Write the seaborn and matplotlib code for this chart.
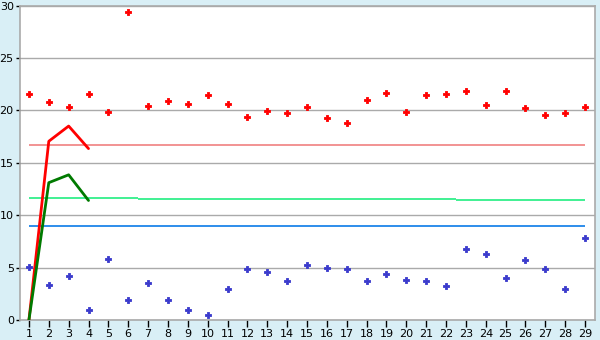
import matplotlib
matplotlib.use("Agg")
import matplotlib.pyplot as plt
import seaborn as sns
import pandas as pd
import numpy as np

# ---- data ----
days = list(range(1, 30))
red_points = [21.6, 20.8, 20.35, 21.6, 19.8, 29.4, 20.45, 20.85, 20.65, 21.5,
              20.65, 19.4, 19.9, 19.7, 20.35, 19.3, 18.75, 21.0, 21.7, 19.8,
              21.5, 21.6, 21.8, 20.55, 21.8, 20.25, 19.6, 19.7, 20.35]
blue_points = [5.1, 3.3, 4.15, 1.0, 5.8, 1.95, 3.5, 1.95, 1.0, 0.45,
               3.0, 4.85, 4.55, 3.7, 5.2, 5.0, 4.85, 3.7, 4.35, 3.8,
               3.7, 3.2, 6.75, 6.25, 4.0, 5.7, 4.85, 3.0, 7.8]
red_line_x = [1, 2, 3, 4]
red_line_y = [0.0, 17.05, 18.5, 16.35]
green_line_x = [1, 2, 3, 4]
green_line_y = [0.0, 13.1, 13.85, 11.4]
pink_level = 16.65
blue_level = 8.92
green_breaks = [1, 6.5, 22.5, 29]
green_levels = [11.59, 11.5, 11.42]
y_ticks = [0, 5, 10, 15, 20, 25, 30]

# ---- style ----
sns.set_theme(style="white")
plt.rcParams['font.family'] = ['DejaVu Sans']
bg = "#d9eff6"
grid_c = "#aaaaaa"

fig = plt.figure(figsize=(6, 3.4), dpi=100, facecolor=bg)
ax = fig.add_axes([20/600, 20/340, 575/600, 314.5/340])
ax.set_facecolor("white")

ax.set_xlim(0.55, 29.5)
ax.set_ylim(0, 30)
ax.set_yticks(y_ticks)
ax.set_xticks(days)
ax.yaxis.grid(True, color=grid_c, linewidth=1)
ax.set_axisbelow(True)

# horizontal reference lines
ax.hlines(pink_level, days[0], days[-1], color="#f08080", linewidth=1.2, zorder=2)
ax.hlines(blue_level, days[0], days[-1], color="#0a7ae8", linewidth=1.2, zorder=2)
for i, lvl in enumerate(green_levels):
    ax.hlines(lvl, green_breaks[i], green_breaks[i + 1], color="#20ee80",
              linewidth=1.2, zorder=2)

# trend lines
sns.lineplot(x=red_line_x, y=red_line_y, ax=ax, color="#ff0000", linewidth=2.0,
             zorder=3, estimator=None, sort=False)
sns.lineplot(x=green_line_x, y=green_line_y, ax=ax, color="#007a00", linewidth=2.0,
             zorder=3, estimator=None, sort=False)

# scatter points
df = pd.DataFrame({"day": days, "high": red_points, "low": blue_points})
sns.scatterplot(data=df, x="day", y="high", ax=ax, color="#ff0000", marker="P",
                s=20, linewidth=0.6, edgecolor="#ff0000", zorder=4)
sns.scatterplot(data=df, x="day", y="low", ax=ax, color="#3a3acc", marker="P",
                s=20, linewidth=0.6, edgecolor="#3a3acc", zorder=4)

ax.set_xlabel("")
ax.set_ylabel("")
for side in ["left", "right", "top", "bottom"]:
    ax.spines[side].set_visible(True)
    ax.spines[side].set_color(grid_c)
    ax.spines[side].set_linewidth(1.2)

ax.tick_params(axis="x", direction="out", length=5, width=1, color="black",
               labelsize=8, pad=1.5, labelcolor="black", bottom=True)
ax.tick_params(axis="y", direction="out", length=3, width=1, color="black",
               labelsize=8, pad=1.5, labelcolor="black", left=True)

fig.savefig("out.png", dpi=100, facecolor=bg)
